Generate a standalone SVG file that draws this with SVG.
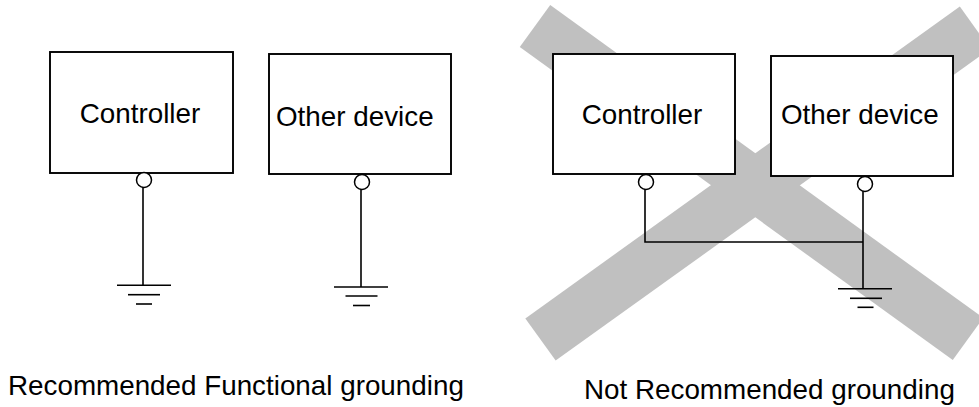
<svg xmlns="http://www.w3.org/2000/svg" width="979" height="407" viewBox="0 0 979 407">
<style>
.box{fill:#fff;stroke:#000;stroke-width:1.9}
.pin{fill:#fff;stroke:#000;stroke-width:1.5}
.w{fill:none;stroke:#000;stroke-width:1.6}
.x{stroke:#c0c0c0;stroke-width:52;stroke-linecap:butt}
text{font-family:"Liberation Sans",Arial,sans-serif;font-size:27.8px;fill:#000}
.m{text-anchor:middle}
</style>
<rect width="979" height="407" fill="#fff"/>
<g id="cross">
<line class="x" x1="535" y1="26" x2="968" y2="339"/>
<line class="x" x1="540.5" y1="339.5" x2="975" y2="27.7"/>
</g>
<g id="connectors">
<line class="w" x1="143" y1="187" x2="143" y2="285"/>
<line class="w" x1="361" y1="189" x2="361" y2="287"/>
<polyline class="w" points="645,189 645,242 863,242"/>
<line class="w" x1="863" y1="191" x2="863" y2="289"/>
</g>
<g id="ground1" class="w">
<line x1="117" y1="285.3" x2="171" y2="285.3"/>
<line x1="128" y1="294.7" x2="160" y2="294.7"/>
<line x1="136" y1="304" x2="152" y2="304"/>
</g>
<g id="ground2" class="w">
<line x1="334" y1="287" x2="388" y2="287"/>
<line x1="345.5" y1="296" x2="377.5" y2="296"/>
<line x1="353" y1="305.5" x2="370" y2="305.5"/>
</g>
<g id="ground3" class="w">
<line x1="838" y1="288.7" x2="892" y2="288.7"/>
<line x1="850" y1="298.3" x2="882" y2="298.3"/>
<line x1="857.5" y1="307.3" x2="873.5" y2="307.3"/>
</g>
<g id="controller1">
<rect class="box" x="50" y="52" width="183" height="121"/>
<circle class="pin" cx="144" cy="180" r="7.5"/>
<text class="m" x="140" y="123">Controller</text>
</g>
<g id="other1">
<rect class="box" x="269" y="54" width="182" height="120"/>
<circle class="pin" cx="362" cy="182" r="7.5"/>
<text x="276" y="126">Other device</text>
</g>
<g id="controller2">
<rect class="box" x="553" y="54" width="182" height="120"/>
<circle class="pin" cx="646" cy="182" r="7.5"/>
<text class="m" x="642" y="124">Controller</text>
</g>
<g id="other2">
<rect class="box" x="771" y="56" width="182" height="120"/>
<circle class="pin" cx="865" cy="184" r="7.5"/>
<text x="781" y="124">Other device</text>
</g>
<g id="captions">
<text x="8" y="395">Recommended Functional grounding</text>
<text x="584" y="399">Not Recommended grounding</text>
</g>
</svg>
